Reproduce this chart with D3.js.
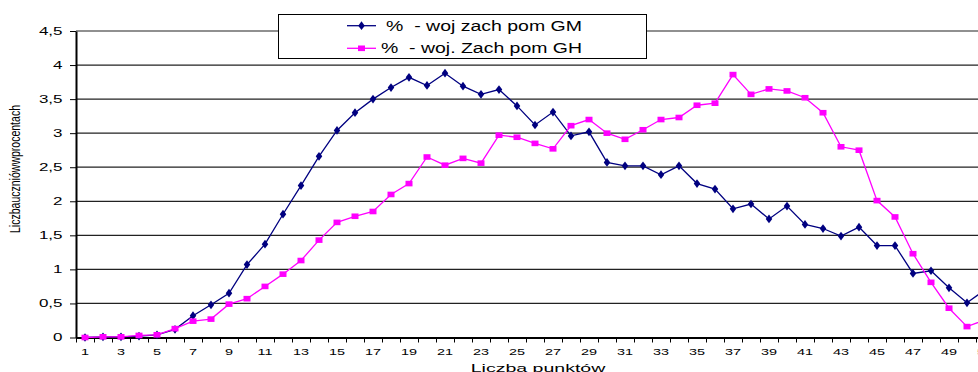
<!DOCTYPE html>
<html lang="pl">
<head>
<meta charset="utf-8">
<script src="https://d3js.org/d3.v7.min.js"></script>
<style>
body { margin: 0; background: #fff; }
text { font-family: "Liberation Sans", Arial, sans-serif; fill: #000; }
.grid line { stroke: #222; stroke-width: 1.2px; }
</style>
</head>
<body>
<svg width="978" height="372"></svg>
<script>
var categories = [1,2,3,4,5,6,7,8,9,10,11,12,13,14,15,16,17,18,19,20,21,22,23,24,25,26,
  27,28,29,30,31,32,33,34,35,36,37,38,39,40,41,42,43,44,45,46,47,48,49,50,51];

var seriesGM = [0,0.01,0.01,0.02,0.04,0.12,0.32,0.48,0.65,1.07,1.37,1.81,2.23,2.66,3.04,
  3.30,3.50,3.67,3.82,3.70,3.88,3.69,3.57,3.64,3.40,3.12,3.31,2.96,3.02,2.57,2.52,2.52,
  2.39,2.52,2.26,2.18,1.89,1.96,1.74,1.93,1.66,1.60,1.49,1.62,1.35,1.35,0.94,0.98,0.73,
  0.51,0.70];

var seriesGH = [0,0.01,0.01,0.03,0.04,0.13,0.24,0.27,0.49,0.57,0.75,0.93,1.13,1.43,1.69,
  1.78,1.85,2.10,2.26,2.65,2.53,2.63,2.56,2.97,2.94,2.85,2.77,3.11,3.20,3.00,2.91,3.05,
  3.20,3.23,3.41,3.44,3.86,3.57,3.65,3.62,3.52,3.30,2.80,2.75,2.01,1.77,1.23,0.81,0.43,
  0.16,0.26];

var yTicks = [0,0.5,1,1.5,2,2.5,3,3.5,4,4.5];
var legendLabels = ["%  - woj zach pom GM", "%  - woj. Zach pom GH"];
var colors = ["#000080", "#ff00ff"];

var svg = d3.select("svg");
var sx = 1.7; // obraz jest rozciagniety w poziomie

var plotLeft = 76, plotTop = 31, plotBottom = 337.5, step = 18;
var plotRight = plotLeft + categories.length * step;

var x = d3.scaleBand()
    .domain(categories)
    .range([plotLeft, plotRight]);

var xb = d3.scaleLinear()
    .domain([0, categories.length])
    .range([plotLeft, plotRight]);

var y = d3.scaleLinear()
    .domain([0, 4.5])
    .range([plotBottom, plotTop]);

function cx(d, i) { return x(categories[i]) + x.bandwidth() / 2; }

// linie siatki
svg.append("g")
    .attr("class", "grid")
  .selectAll("line")
  .data(yTicks.filter(function(d) { return d > 0; }))
  .enter().append("line")
    .attr("x1", plotLeft)
    .attr("x2", plotRight)
    .attr("y1", function(d) { return y(d); })
    .attr("y2", function(d) { return y(d); });

// os Y
var yAxis = svg.append("g")
    .attr("transform", "translate(" + plotLeft + ",0)")
    .call(d3.axisLeft(y)
      .tickValues(yTicks)
      .tickSize(6)
      .tickSizeOuter(0)
      .tickFormat(function(d) { return String(d).replace(".", ","); }));
yAxis.select(".domain").attr("stroke", "#000").attr("stroke-width", 2);
yAxis.selectAll(".tick line").attr("stroke", "#000");
yAxis.selectAll(".tick text")
    .attr("x", -13.5 / sx)
    .attr("transform", "scale(" + sx + ",1)")
    .style("font-size", "10px")
    .style("font-family", "Liberation Sans, Arial, sans-serif");

// os X - kreski na granicach kategorii
var xTicks = svg.append("g")
    .attr("transform", "translate(0," + plotBottom + ")")
    .call(d3.axisBottom(xb)
      .tickValues(d3.range(0, categories.length + 1))
      .tickSize(5)
      .tickSizeOuter(0)
      .tickFormat(""));
xTicks.select(".domain").attr("stroke", "#000").attr("stroke-width", 2);
xTicks.selectAll(".tick line").attr("stroke", "#000");

// os X - etykiety
var xLab = svg.append("g")
    .attr("transform", "translate(0," + plotBottom + ")")
    .call(d3.axisBottom(x)
      .tickValues(categories.filter(function(d) { return d % 2 === 1; }))
      .tickSize(0));
xLab.select(".domain").remove();
xLab.selectAll(".tick text")
    .attr("y", 17.2)
    .attr("dy", 0)
    .attr("transform", "scale(" + sx + ",1)")
    .style("font-size", "8.5px")
    .style("font-family", "Liberation Sans, Arial, sans-serif");

// tytuly osi
svg.append("text")
    .attr("transform", "translate(538,372) scale(" + sx + ",1)")
    .attr("text-anchor", "middle")
    .style("font-size", "11.5px")
    .text("Liczba punktów");

svg.append("text")
    .attr("transform", "translate(19.5,169) scale(" + sx + ",1) rotate(-90)")
    .attr("text-anchor", "middle")
    .attr("textLength", 128)
    .attr("lengthAdjust", "spacingAndGlyphs")
    .style("font-size", "8.5px")
    .text("Liczbauczniówwprocentach");

// serie
var line = d3.line()
    .x(cx)
    .y(function(d) { return y(d); });

var diamond = d3.symbol().type(d3.symbolDiamond).size(22);

svg.append("path")
    .datum(seriesGM)
    .attr("fill", "none")
    .attr("stroke", colors[0])
    .attr("stroke-width", 1.3)
    .attr("d", line);

svg.append("g").selectAll("path")
    .data(seriesGM)
    .enter().append("path")
    .attr("d", diamond)
    .attr("fill", colors[0])
    .attr("transform", function(d, i) {
      return "translate(" + cx(d, i) + "," + y(d) + ") scale(1.3,1)";
    });

svg.append("path")
    .datum(seriesGH)
    .attr("fill", "none")
    .attr("stroke", colors[1])
    .attr("stroke-width", 1.3)
    .attr("d", line);

svg.append("g").selectAll("rect")
    .data(seriesGH)
    .enter().append("rect")
    .attr("x", function(d, i) { return cx(d, i) - 3.5; })
    .attr("y", function(d) { return y(d) - 2.8; })
    .attr("width", 7)
    .attr("height", 5.6)
    .attr("fill", colors[1]);

// legenda
var legend = svg.append("g");
legend.append("rect")
    .attr("x", 278.5)
    .attr("y", 14.5)
    .attr("width", 368)
    .attr("height", 44)
    .attr("fill", "#fff")
    .attr("stroke", "#000");

var rows = [25.7, 48.3];
var textStart = [386, 381];
legendLabels.forEach(function(lbl, i) {
  legend.append("line")
      .attr("x1", 347).attr("x2", 376)
      .attr("y1", rows[i]).attr("y2", rows[i])
      .attr("stroke", colors[i])
      .attr("stroke-width", 1.3);
  if (i === 0) {
    legend.append("path")
        .attr("d", diamond)
        .attr("fill", colors[0])
        .attr("transform", "translate(361.5," + rows[i] + ") scale(1.3,1)");
  } else {
    legend.append("rect")
        .attr("x", 358).attr("y", rows[i] - 2.8)
        .attr("width", 7).attr("height", 5.6)
        .attr("fill", colors[1]);
  }
  legend.append("text")
      .attr("x", textStart[i])
      .attr("y", rows[i] + 5)
      .attr("textLength", 582 - textStart[i])
      .attr("lengthAdjust", "spacingAndGlyphs")
      .style("font-size", "14px")
      .style("white-space", "pre")
      .text(lbl);
});
</script>
</body>
</html>
